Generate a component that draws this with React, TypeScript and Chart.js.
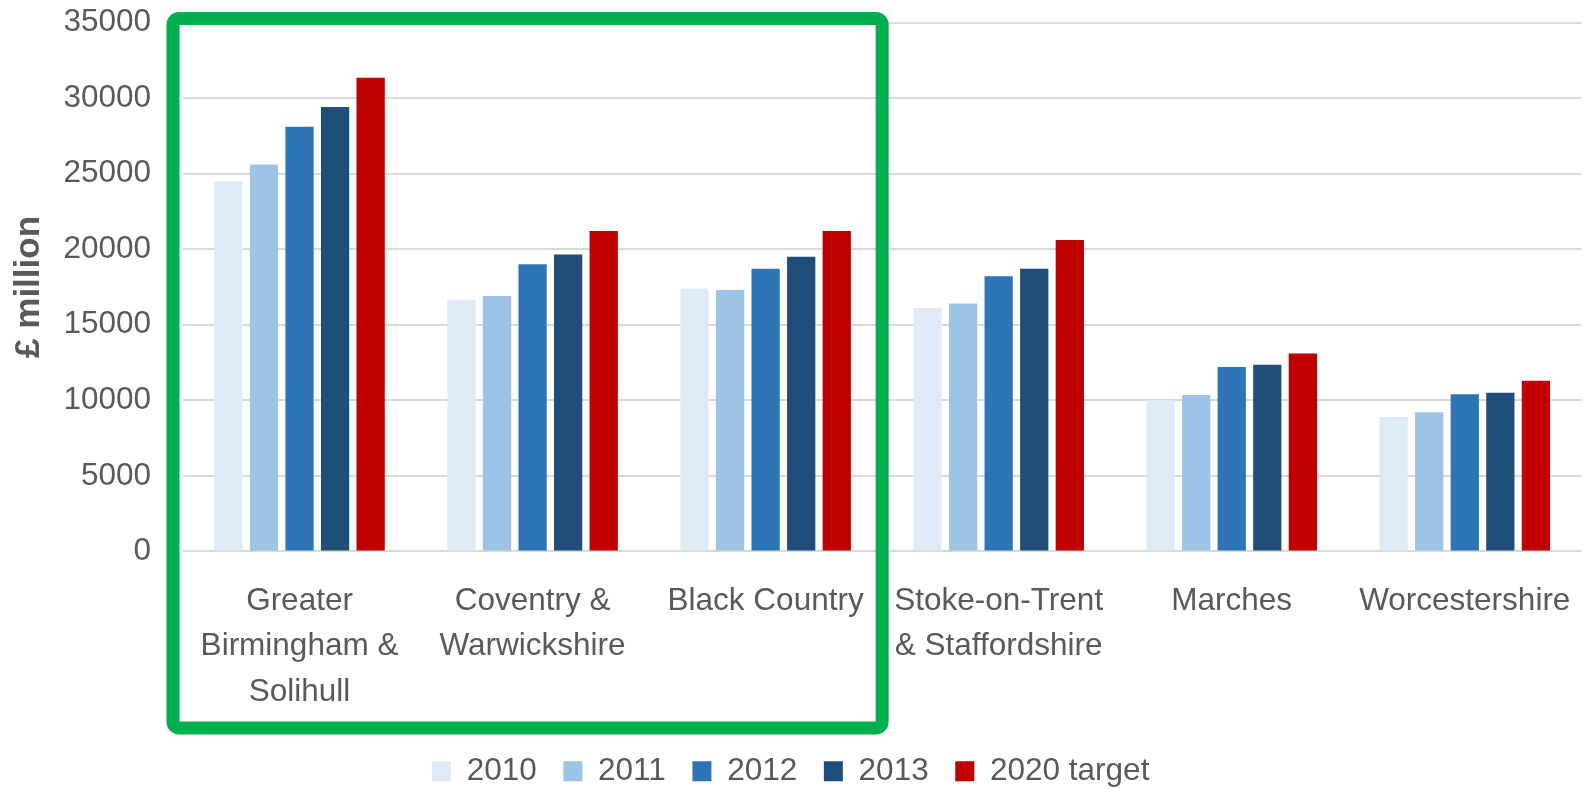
import React, { useEffect, useRef } from "react";
import { Chart, registerables } from "chart.js";

Chart.register(...registerables);

// ---- data ----
const categories: string[][] = [
  ["Greater", "Birmingham &", "Solihull"],
  ["Coventry &", "Warwickshire"],
  ["Black Country"],
  ["Stoke-on-Trent", "& Staffordshire"],
  ["Marches"],
  ["Worcestershire"],
];
const seriesLabels = ["2010", "2011", "2012", "2013", "2020 target"];
const values2010 = [24500, 16650, 17400, 16100, 10000, 8900];
const values2011 = [25600, 16900, 17300, 16400, 10350, 9200];
const values2012 = [28100, 19000, 18700, 18200, 12200, 10400];
const values2013 = [29400, 19650, 19500, 18700, 12350, 10500];
const values2020 = [31350, 21200, 21200, 20600, 13100, 11300];
const seriesColors = ["#DEEBF7", "#9DC3E6", "#2E75B6", "#1F4E79", "#C00000"];
const yMin = 0;
const yMax = 35000;
const yStep = 5000;
const yTitle = "£ million";
const highlightedCount = 3;

const FONT = "'Liberation Sans', Arial, sans-serif";
const TEXT = "#595959";

const highlightBox = {
  id: "highlightBox",
  afterDraw(chart: any) {
    const { ctx, chartArea, scales } = chart;
    const x = scales.x;
    const left = chartArea.left - 10;
    const right =
      (x.getPixelForValue(highlightedCount - 1) + x.getPixelForValue(highlightedCount)) / 2;
    const top = chartArea.top - 4;
    const bottom = x.bottom - 1;
    ctx.save();
    ctx.strokeStyle = "#00B050";
    ctx.lineWidth = 13;
    ctx.beginPath();
    if ((ctx as any).roundRect) {
      (ctx as any).roundRect(left, top, right - left, bottom - top, 6);
    } else {
      ctx.rect(left, top, right - left, bottom - top);
    }
    ctx.stroke();
    ctx.restore();
  },
};

export default function App() {
  const canvasRef = useRef<HTMLCanvasElement | null>(null);

  useEffect(() => {
    document.body.style.margin = "0";
    const canvas = canvasRef.current;
    if (!canvas) return;
    const allValues = [values2010, values2011, values2012, values2013, values2020];
    const chart = new Chart(canvas, {
      type: "bar",
      data: {
        labels: categories,
        datasets: seriesLabels.map((label, i) => ({
          label,
          data: allValues[i],
          backgroundColor: seriesColors[i],
          borderWidth: 0,
          categoryPercentage: 0.763,
          barPercentage: 0.795,
        })),
      },
      options: {
        animation: false,
        responsive: true,
        maintainAspectRatio: false,
        layout: { padding: { top: 22.5, right: 1.7, bottom: -8, left: 0 } },
        plugins: {
          tooltip: { enabled: false },
          legend: {
            position: "bottom",
            labels: {
              color: TEXT,
              font: { family: FONT, size: 31.5 },
              boxWidth: 19,
              boxHeight: 20,
              padding: 26.6,
            },
          },
        },
        scales: {
          x: {
            grid: { display: false, drawTicks: false },
            border: { display: false },
            ticks: {
              color: TEXT,
              font: { family: FONT, size: 31.5, lineHeight: 45.5 / 31.5 },
              padding: 27,
              maxRotation: 0,
              autoSkip: false,
            },
            afterFit: (scale: any) => {
              scale.height = 177.5;
              scale.paddingLeft = 0;
              scale.paddingRight = 0;
            },
          },
          y: {
            min: yMin,
            max: yMax,
            grid: { color: "#D9D9D9", lineWidth: 2, drawTicks: false },
            border: { display: false },
            ticks: {
              stepSize: yStep,
              color: TEXT,
              font: { family: FONT, size: 31.5 },
              padding: 32,
              callback: (v: any) => String(v),
            },
            title: {
              display: true,
              text: yTitle,
              color: TEXT,
              font: { family: FONT, size: 35, weight: "bold" },
              padding: { top: 8.6, bottom: 0 },
            },
            afterFit: (scale: any) => {
              scale.width = 183;
              scale.paddingTop = 0;
              scale.paddingBottom = 0;
            },
          },
        },
      },
      plugins: [highlightBox],
    } as any);
    return () => chart.destroy();
  }, []);

  return (
    <div style={{ width: 1583, height: 789, position: "relative" }}>
      <canvas ref={canvasRef} />
    </div>
  );
}
